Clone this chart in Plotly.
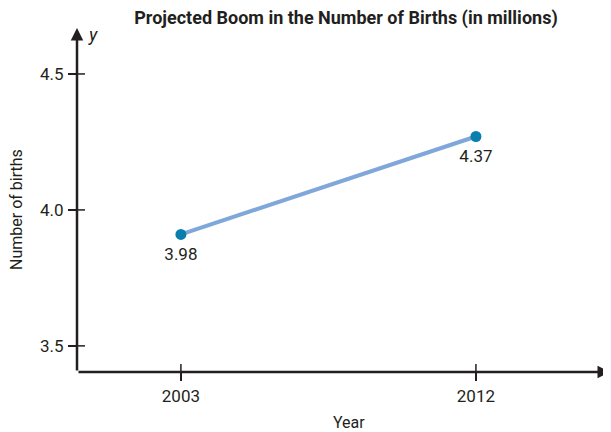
import plotly.graph_objects as go

years = [2003, 2012]
births_plotted = [3.91, 4.27]
point_labels = ["3.98", "4.37"]
x_ticks = [2003, 2012]
x_tick_labels = ["2003", "2012"]
y_ticks = [3.5, 4.0, 4.5]
y_tick_labels = ["3.5", "4.0", "4.5"]

FONT = "Roboto, Arial, sans-serif"
AXC = "#231f20"

fig = go.Figure()
fig.add_trace(go.Scatter(
    x=years, y=births_plotted, mode="lines+markers",
    line=dict(color="#7fa7d9", width=4),
    marker=dict(color="#0a7fae", size=11),
    cliponaxis=False, hoverinfo="skip", showlegend=False,
))
fig.add_trace(go.Scatter(
    x=years, y=births_plotted, mode="markers+text",
    text=point_labels, textposition="bottom center",
    textfont=dict(family=FONT, size=17, color="#231f20"),
    marker=dict(size=19, opacity=0),
    cliponaxis=False, hoverinfo="skip", showlegend=False,
))

shapes = []
for yv in y_ticks:
    shapes.append(dict(type="line", xref="paper", yref="y", xsizemode="pixel",
                       xanchor=0, x0=0, x1=8, y0=yv, y1=yv,
                       line=dict(color=AXC, width=1.5)))
for xv in x_ticks:
    shapes.append(dict(type="line", xref="x", yref="paper", ysizemode="pixel",
                       yanchor=0, y0=0, y1=8, x0=xv, x1=xv,
                       line=dict(color=AXC, width=1.5)))

annotations = [
    dict(x=0, y=1, xref="paper", yref="paper", ax=0, ay=344, axref="pixel", ayref="pixel",
         text="", showarrow=True, arrowhead=2, arrowsize=1, arrowwidth=2.5, arrowcolor=AXC, standoff=0),
    dict(x=1, y=0, xref="paper", yref="paper", ax=-533, ay=0, axref="pixel", ayref="pixel",
         text="", showarrow=True, arrowhead=2, arrowsize=1, arrowwidth=2.5, arrowcolor=AXC, standoff=0),
    dict(x=0, y=1, xref="paper", yref="paper", xanchor="left", yanchor="middle",
         xshift=9, yshift=-6, text="<i>y</i>", showarrow=False,
         font=dict(family=FONT, size=18, color=AXC)),
    dict(x=1, y=0, xref="paper", yref="paper", xanchor="left", yanchor="middle",
         xshift=-3, yshift=14, text="<i>x</i>", showarrow=False,
         font=dict(family=FONT, size=18, color=AXC)),
    dict(x=0.5, y=0, xref="paper", yref="paper", xanchor="center", yanchor="middle",
         xshift=5, yshift=-50, text="Year", showarrow=False,
         font=dict(family=FONT, size=16, color=AXC)),
    dict(x=0, y=0.471, xref="paper", yref="paper", xanchor="center", yanchor="middle",
         xshift=-60, textangle=-90, text="Number of births", showarrow=False,
         font=dict(family=FONT, size=16, color=AXC)),
]

fig.update_layout(
    width=603, height=424,
    margin=dict(l=69, r=1, t=20, b=60),
    paper_bgcolor="white", plot_bgcolor="white",
    title=dict(text="<b>Projected Boom in the Number of Births (in millions)</b>",
               x=0.5605, xanchor="center", y=0.976, yanchor="middle",
               font=dict(family=FONT, size=18, color=AXC)),
    xaxis=dict(range=[1999.83, 2016.09], showgrid=False, zeroline=False, showline=False,
               automargin=False,
               tickvals=x_ticks, ticktext=x_tick_labels, ticks="outside", ticklen=8,
               tickwidth=1.5, tickcolor=AXC, ticklabelstandoff=1,
               tickfont=dict(family=FONT, size=17, color=AXC)),
    yaxis=dict(range=[3.404, 4.669], showgrid=False, zeroline=False, showline=False,
               automargin=False,
               tickvals=y_ticks, ticktext=y_tick_labels, ticks="outside", ticklen=8,
               tickwidth=1.5, tickcolor=AXC, ticklabelstandoff=1,
               tickfont=dict(family=FONT, size=17, color=AXC)),
    shapes=shapes, annotations=annotations,
)
fig.write_html("out.html")
